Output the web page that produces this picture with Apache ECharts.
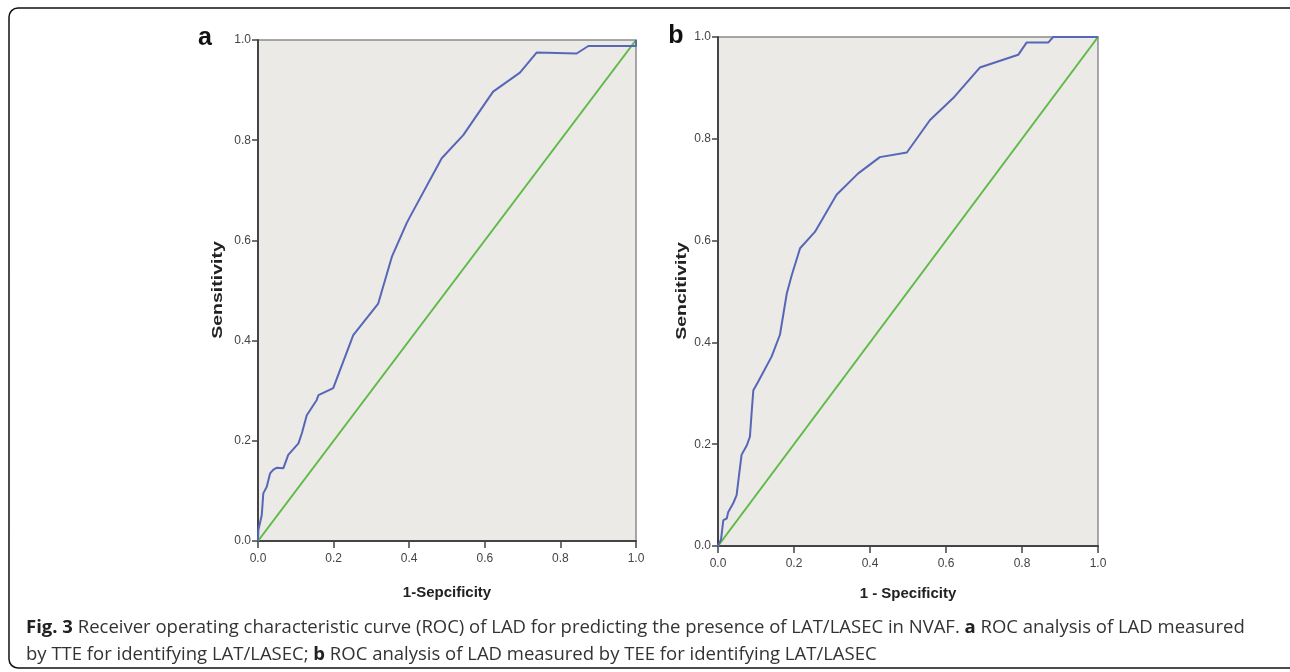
<!DOCTYPE html>
<html>
<head>
<meta charset="utf-8">
<script src="https://cdn.jsdelivr.net/npm/echarts@6/dist/echarts.min.js"></script>
<style>
html,body{margin:0;padding:0;background:#fff;}
#chart{width:1290px;height:672px;}
</style>
</head>
<body>
<div id="chart"></div>
<script>
// ---- data ----
const tickValues = [0, 0.2, 0.4, 0.6, 0.8, 1.0];
const rocA = [
  [0,0],[0.001,0.022],[0.010,0.052],[0.014,0.095],[0.023,0.108],[0.032,0.135],
  [0.040,0.142],[0.049,0.146],[0.067,0.145],[0.080,0.172],[0.107,0.195],[0.116,0.215],
  [0.129,0.251],[0.155,0.281],[0.160,0.291],[0.199,0.305],[0.252,0.411],[0.318,0.474],
  [0.354,0.567],[0.393,0.634],[0.402,0.647],[0.486,0.764],[0.543,0.810],[0.622,0.897],
  [0.693,0.935],[0.737,0.975],[0.843,0.973],[0.874,0.988],[1.0,0.988],[1.0,1.0]
];
const rocB = [
  [0,0],[0.008,0.013],[0.014,0.051],[0.023,0.054],[0.027,0.067],[0.040,0.084],
  [0.049,0.100],[0.056,0.143],[0.062,0.179],[0.076,0.198],[0.084,0.215],[0.089,0.267],
  [0.093,0.306],[0.106,0.323],[0.141,0.372],[0.163,0.415],[0.181,0.496],[0.194,0.532],
  [0.216,0.585],[0.255,0.617],[0.273,0.640],[0.312,0.690],[0.369,0.732],[0.426,0.764],
  [0.497,0.773],[0.558,0.837],[0.619,0.880],[0.689,0.940],[0.790,0.965],[0.812,0.989],
  [0.869,0.989],[0.882,1.0],[1.0,1.0]
];
const diagonal = [[0,0],[1,1]];
const panelLetters = ['a', 'b'];
const xTitles = ['1-Sepcificity', '1 - Specificity'];
const yTitles = ['Sensitivity', 'Sencitivity'];
const captionLine1 = '{b|Fig. 3} Receiver operating characteristic curve (ROC) of LAD for predicting the presence of LAT/LASEC in NVAF. {b|a} ROC analysis of LAD measured';
const captionLine2 = 'by TTE for identifying LAT/LASEC; {b|b} ROC analysis of LAD measured by TEE for identifying LAT/LASEC';

// ---- chart ----
const chart = echarts.init(document.getElementById('chart'), null, {renderer:'canvas'});
const tickFont = {fontFamily:'Liberation Sans, Arial, sans-serif', fontSize:12, color:'#444'};
function xAxisCfg(gi, name){
  return {
    type:'value', gridIndex:gi, min:0, max:1, interval:0.2,
    name:name, nameLocation:'middle', nameGap: gi===0 ? 44 : 40,
    nameTextStyle:{fontFamily:'Liberation Sans, Arial, sans-serif', fontWeight:'bold', fontSize:15, color:'#222'},
    axisLine:{show:true, onZero:false, lineStyle:{color:'#444', width:2}},
    axisTick:{show:true, length:7, lineStyle:{color:'#444', width:1.5}},
    splitLine:{show:false},
    axisLabel:Object.assign({margin:12, formatter:v=>v.toFixed(1), showMaxLabel:true, showMinLabel:true}, tickFont)
  };
}
function yAxisCfg(gi){
  return {
    type:'value', gridIndex:gi, min:0, max:1, interval:0.2,
    axisLine:{show:true, onZero:false, lineStyle:{color:'#444', width:2}},
    axisTick:{show:true, length:6, lineStyle:{color:'#444', width:1.5}},
    splitLine:{show:false},
    axisLabel:Object.assign({margin:7, formatter:v=>v.toFixed(1), showMaxLabel:true, showMinLabel:true}, tickFont)
  };
}
const gridStyle = {show:true, backgroundColor:'#EBEAE6', borderColor:'#8c8c8c', borderWidth:1.5};
const option = {
  animation:false,
  backgroundColor:'#fff',
  grid:[
    Object.assign({left:258, top:40, width:378, height:501}, gridStyle),
    Object.assign({left:718, top:37, width:380, height:509}, gridStyle)
  ],
  xAxis:[xAxisCfg(0, xTitles[0]), xAxisCfg(1, xTitles[1])],
  yAxis:[yAxisCfg(0), yAxisCfg(1)],
  series:[
    {type:'line', xAxisIndex:0, yAxisIndex:0, data:diagonal, showSymbol:false, symbol:'none', lineStyle:{color:'#5DBB46', width:2}, z:2},
    {type:'line', xAxisIndex:0, yAxisIndex:0, data:rocA, showSymbol:false, symbol:'none', lineStyle:{color:'#5767B8', width:2}, z:3},
    {type:'line', xAxisIndex:1, yAxisIndex:1, data:diagonal, showSymbol:false, symbol:'none', lineStyle:{color:'#5DBB46', width:2}, z:2},
    {type:'line', xAxisIndex:1, yAxisIndex:1, data:rocB, showSymbol:false, symbol:'none', lineStyle:{color:'#5767B8', width:2}, z:3}
  ],
  graphic:[
    {type:'rect', shape:{x:9, y:8, width:1300, height:660, r:9}, style:{fill:null, stroke:'#111', lineWidth:1.5}, z:-1, silent:true},
    {type:'text', x:205, y:38, style:{text:panelLetters[0], fontFamily:'Liberation Sans, Arial, sans-serif', fontWeight:'bold', fontSize:25, fill:'#111', align:'center', verticalAlign:'middle'}},
    {type:'text', x:676, y:36, style:{text:panelLetters[1], fontFamily:'Liberation Sans, Arial, sans-serif', fontWeight:'bold', fontSize:25, fill:'#111', align:'center', verticalAlign:'middle'}},
    {type:'text', x:218, y:290, rotation:Math.PI/2, scaleX:1.3, style:{text:yTitles[0], fontFamily:'Liberation Sans, Arial, sans-serif', fontWeight:'bold', fontSize:15, fill:'#222', align:'center', verticalAlign:'middle'}},
    {type:'text', x:682, y:291, rotation:Math.PI/2, scaleX:1.3, style:{text:yTitles[1], fontFamily:'Liberation Sans, Arial, sans-serif', fontWeight:'bold', fontSize:15, fill:'#222', align:'center', verticalAlign:'middle'}},
    {type:'text', x:26, y:628, style:{text:captionLine1, fontFamily:'Open Sans, sans-serif', fontSize:18.5, fill:'#333', verticalAlign:'middle',
      rich:{b:{fontFamily:'Open Sans, sans-serif', fontWeight:'bold', fontSize:18.5, fill:'#222'}}}},
    {type:'text', x:26, y:655, style:{text:captionLine2, fontFamily:'Open Sans, sans-serif', fontSize:18.5, fill:'#333', verticalAlign:'middle',
      rich:{b:{fontFamily:'Open Sans, sans-serif', fontWeight:'bold', fontSize:18.5, fill:'#222'}}}}
  ]
};
chart.setOption(option);
</script>
</body>
</html>
